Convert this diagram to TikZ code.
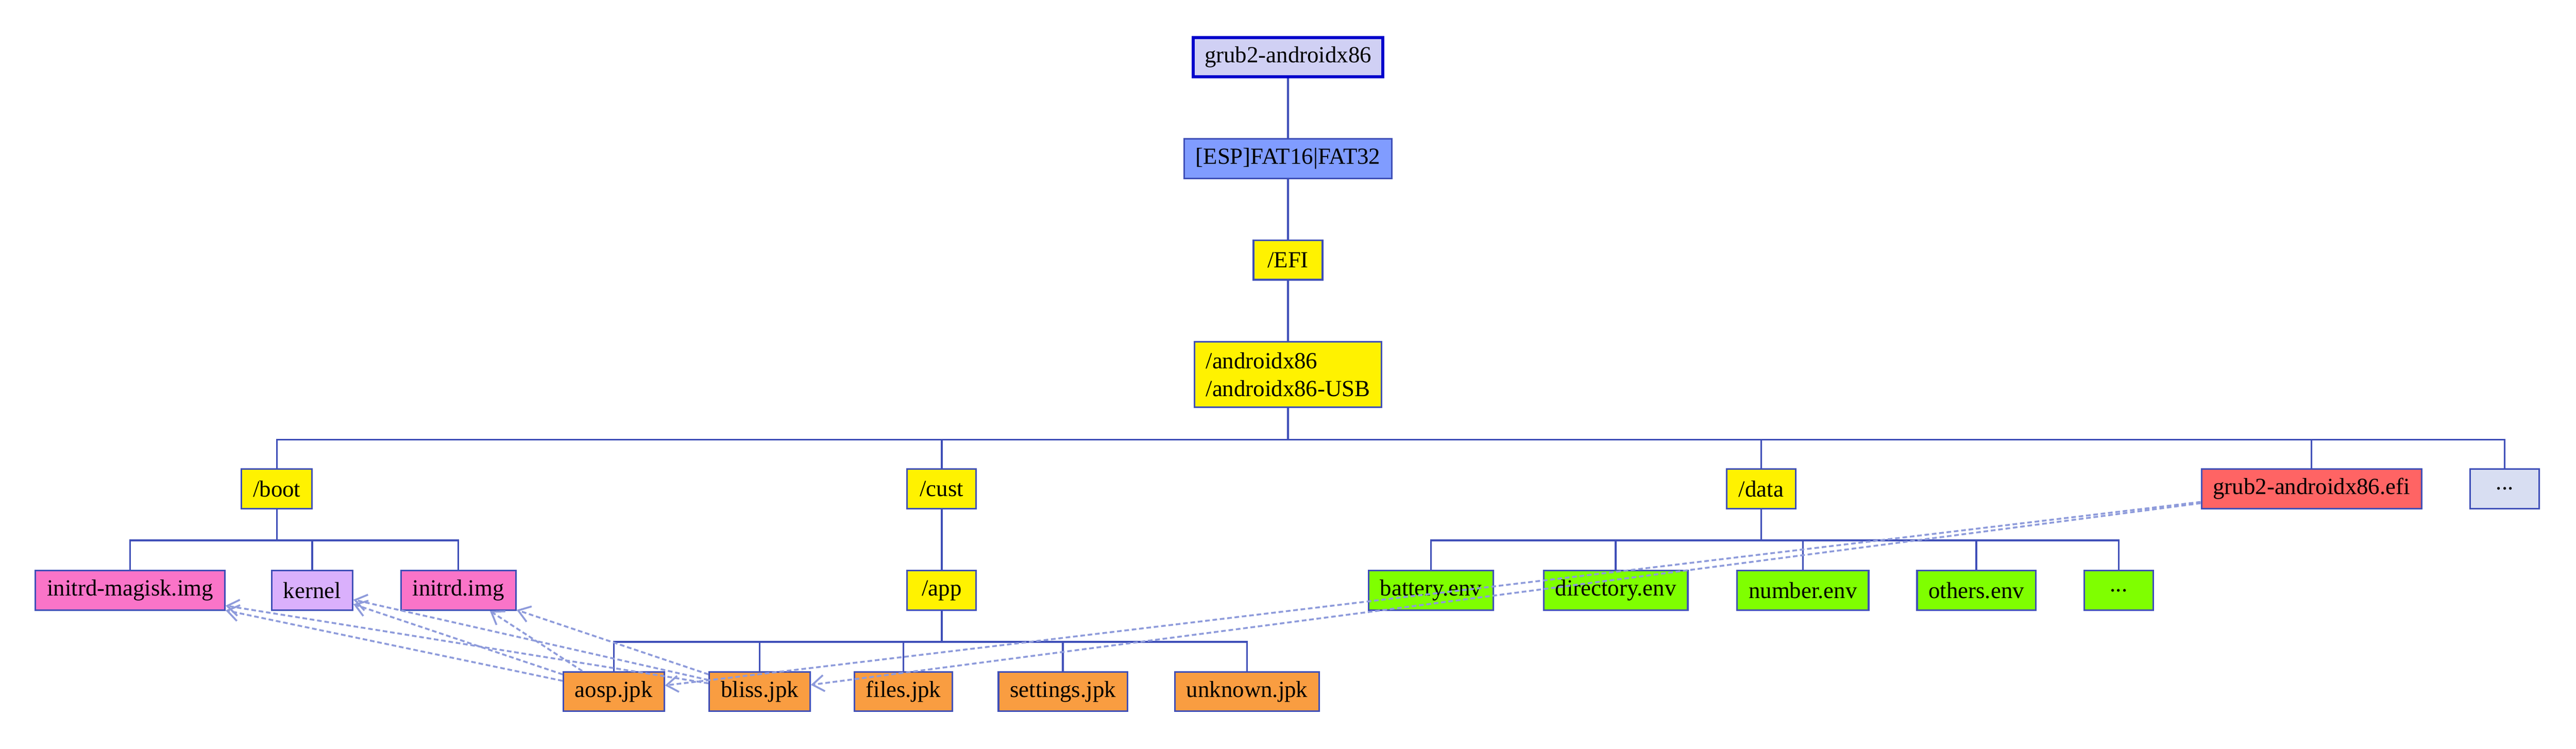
\documentclass[tikz,border=0pt]{standalone}
\usepackage{fontspec}
\setmainfont{Liberation Serif}
\usetikzlibrary{arrows.meta}

\definecolor{edgeblue}{HTML}{3F4FB8}
\definecolor{linkblue}{HTML}{8E9BDB}
\definecolor{rootblue}{HTML}{0000CC}
\definecolor{rootfill}{HTML}{D0D0F4}
\definecolor{espfill}{HTML}{809CFF}
\definecolor{pinkfill}{HTML}{FA74C8}
\definecolor{kernfill}{HTML}{DAB0FC}
\definecolor{orangefill}{HTML}{F99D41}
\definecolor{greenfill}{HTML}{7FFF00}
\definecolor{redfill}{HTML}{FF6464}
\definecolor{morefill}{HTML}{D8DEF2}

\begin{document}
\begin{tikzpicture}[
    x=0.025cm, y=-0.025cm,
    every node/.style={draw=edgeblue, line width=0.7pt, rectangle, align=center,
      inner xsep=5pt, inner ysep=2pt, minimum width=1.05cm, minimum height=0.6cm,
      font=\fontsize{10}{12}\selectfont},
    tree/.style={draw=edgeblue, line width=0.8pt},
    link/.style={draw=linkblue, line width=0.8pt, dash pattern=on 2pt off 1.2pt,
      -{Straight Barb[length=5pt,width=7pt]}}
]
  \useasboundingbox (0,0) rectangle (1568,455.7);

  % Top chain
  \node (root) [fill=rootfill, draw=rootblue, line width=1.4pt] at (784,34.8) {grub2-androidx86};
  \node (esp)  [fill=espfill] at (784,96.6) {[ESP]FAT16|FAT32};
  \node (efi)  [fill=yellow] at (784,158.3) {/EFI};
  \node (andr) [fill=yellow, align=left, minimum height=1cm] at (784,228) {/androidx86\\/androidx86-USB};

  % Second row
  \node (boot)    [fill=yellow] at (168.5,297.6) {/boot};
  \node (cust)    [fill=yellow] at (573.2,297.6) {/cust};
  \node (data)    [fill=yellow] at (1072,297.6) {/data};
  \node (efifile) [fill=redfill] at (1407,297.6) {grub2-androidx86.efi};
  \node (more)    [fill=morefill] at (1524.6,297.6) {...};

  % Third row
  \node (magisk)    [fill=pinkfill] at (79.2,359.4) {initrd-magisk.img};
  \node (kernel)    [fill=kernfill] at (190,359.4) {kernel};
  \node (initrd)    [fill=pinkfill] at (279,359.4) {initrd.img};
  \node (app)       [fill=yellow] at (573.2,359.4) {/app};
  \node (battery)   [fill=greenfill] at (871,359.4) {battery.env};
  \node (directory) [fill=greenfill] at (983.5,359.4) {directory.env};
  \node (number)    [fill=greenfill] at (1097.4,359.4) {number.env};
  \node (others)    [fill=greenfill] at (1203,359.4) {others.env};
  \node (moreenv)   [fill=greenfill] at (1289.7,359.4) {...};

  % Fourth row
  \node (aosp)     [fill=orangefill] at (373.6,421) {aosp.jpk};
  \node (bliss)    [fill=orangefill] at (462.4,421) {bliss.jpk};
  \node (files)    [fill=orangefill] at (549.9,421) {files.jpk};
  \node (settings) [fill=orangefill] at (647,421) {settings.jpk};
  \node (unknown)  [fill=orangefill] at (759.1,421) {unknown.jpk};

  % Tree edges
  \draw[tree] (root) -- (esp);
  \draw[tree] (esp) -- (efi);
  \draw[tree] (efi) -- (andr);
  \foreach \c in {boot,cust,data,efifile,more}
    \draw[tree] (andr.south) -- ++(0,19.2) -| (\c.north);
  \foreach \c in {magisk,kernel,initrd}
    \draw[tree] (boot.south) -- ++(0,18.8) -| (\c.north);
  \draw[tree] (cust) -- (app);
  \foreach \c in {battery,directory,number,others,moreenv}
    \draw[tree] (data.south) -- ++(0,18.8) -| (\c.north);
  \foreach \c in {aosp,bliss,files,settings,unknown}
    \draw[tree] (app.south) -- ++(0,18.8) -| (\c.north);

  % Links
  \foreach \f in {aosp,bliss} {
    \draw[link] (\f) -- (magisk);
    \draw[link] (\f) -- (kernel);
    \draw[link] (\f) -- (initrd);
    \draw[link] (efifile) -- (\f);
  }
\end{tikzpicture}
\end{document}
